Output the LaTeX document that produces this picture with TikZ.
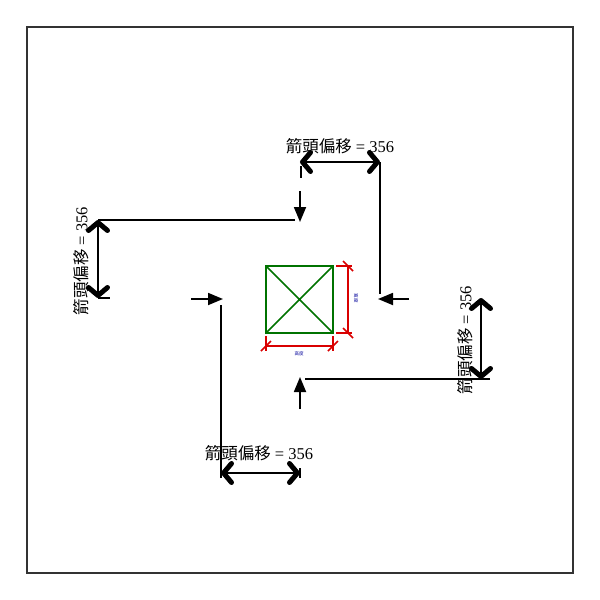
\documentclass[tikz,border=0pt]{standalone}
\usepackage{fontspec}
\setmainfont{Liberation Serif}
\newfontfamily\cjk{Noto Sans CJK TC}
\usetikzlibrary{arrows.meta}
\tikzset{
  offsetdim/.style={line width=1.8pt,
    {Straight Barb[length=8pt,width=19pt,line width=5pt,round]}-{Straight Barb[length=8pt,width=19pt,line width=5pt,round]}},
  pointer/.style={line width=1.8pt,-{Triangle[length=15pt,width=12pt]}},
  leader/.style={line width=1.8pt},
  offsetlabel/.style={font=\fontsize{16.5}{16.5}\selectfont,inner sep=0pt},
  sizedim/.style={red!85!black,line width=1.5pt},
  sizelabel/.style={blue!60!black,font=\fontsize{4.5}{5}\selectfont,inner sep=0pt}
}
\begin{document}
\begin{tikzpicture}[x=1pt,y=-1pt]
\useasboundingbox (0,0) rectangle (600,600);
% 外框
\draw[line width=1.3pt,black!80] (27,27) rectangle (573,573);
% 中央の矩形
\coordinate (nw) at (266,266);
\coordinate (ne) at (333,266);
\coordinate (se) at (333,333);
\coordinate (sw) at (266,333);
\draw[green!45!black,line width=1.8pt] (nw) -- (ne) -- (se) -- (sw) -- cycle;
\draw[green!45!black,line width=1.5pt] (nw) -- (se) (ne) -- (sw);
% 寸法(右)
\coordinate (r1) at (348,266);
\coordinate (r2) at (348,333);
\draw[sizedim] (336,266) -- (352,266) (336,333) -- (352,333);
\draw[sizedim] (r1) -- (r2);
\draw[sizedim] (343,261) -- (353,271) (343,328) -- (353,338);
\node[sizelabel,rotate=-90] (wlabel) at (356,298) {\cjk 寬度};
% 寸法(下)
\coordinate (b1) at (266,346);
\coordinate (b2) at (333,346);
\draw[sizedim] (266,336) -- (266,351) (333,336) -- (333,351);
\draw[sizedim] (b1) -- (b2);
\draw[sizedim] (261,351) -- (271,341) (328,351) -- (338,341);
\node[sizelabel] (hlabel) at (299,354) {\cjk 高度};
% 上の矢印
\coordinate (ttail) at (300,191);
\coordinate (ttip) at (300,222);
\coordinate (tlead) at (98,220);
\coordinate (tleadend) at (295,220);
\draw[pointer] (ttail) -- (ttip);
\draw[leader] (tlead) -- (tleadend);
% 右の矢印
\coordinate (rtail) at (409,299);
\coordinate (rtip) at (378,299);
\coordinate (rlead) at (380,162);
\coordinate (rleadend) at (380,294);
\draw[pointer] (rtail) -- (rtip);
\draw[leader] (rlead) -- (rleadend);
% 下の矢印
\coordinate (btail) at (300,409);
\coordinate (btip) at (300,377);
\coordinate (blead) at (490,379);
\coordinate (bleadend) at (305,379);
\draw[pointer] (btail) -- (btip);
\draw[leader] (blead) -- (bleadend);
% 左の矢印
\coordinate (ltail) at (191,299);
\coordinate (ltip) at (223,299);
\coordinate (llead) at (221,478);
\coordinate (lleadend) at (221,305);
\draw[pointer] (ltail) -- (ltip);
\draw[leader] (llead) -- (lleadend);
% 箭頭偏移(上)
\coordinate (td1) at (300,162);
\coordinate (td2) at (380,162);
\draw[leader] (301,166) -- (301,178);
\draw[offsetdim] (td1) -- (td2);
\node[offsetlabel] (tlabel) at (340,146) {{\cjk 箭頭偏移} = 356};
% 箭頭偏移(左)
\coordinate (ld1) at (98,220);
\coordinate (ld2) at (98,298);
\draw[leader] (98,298) -- (110,298);
\draw[offsetdim] (ld1) -- (ld2);
\node[offsetlabel,rotate=90] (llabel) at (81,261) {{\cjk 箭頭偏移} = 356};
% 箭頭偏移(右)
\coordinate (rd1) at (481,298);
\coordinate (rd2) at (481,379);
\draw[offsetdim] (rd1) -- (rd2);
\node[offsetlabel,rotate=90] (rlabel) at (465,340) {{\cjk 箭頭偏移} = 356};
% 箭頭偏移(下)
\coordinate (bd1) at (221,473);
\coordinate (bd2) at (300,473);
\draw[leader] (300,468) -- (300,478);
\draw[offsetdim] (bd1) -- (bd2);
\node[offsetlabel] (blabel) at (259,453) {{\cjk 箭頭偏移} = 356};
\end{tikzpicture}
\end{document}
